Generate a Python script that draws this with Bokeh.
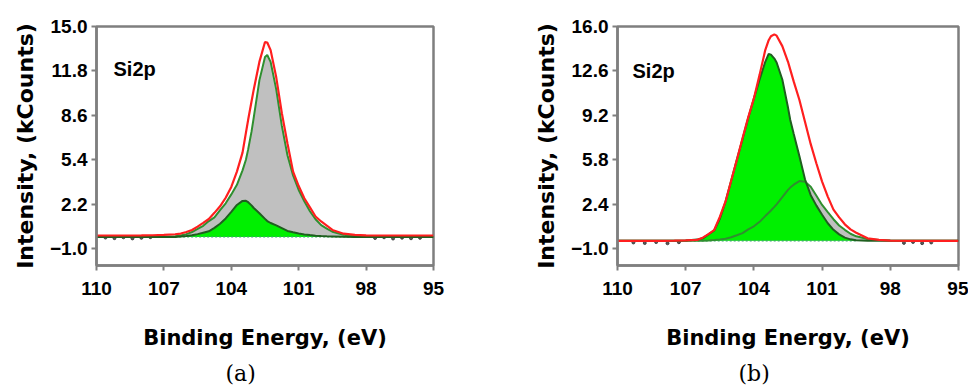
from bokeh.plotting import figure
from bokeh.models import Range1d, FixedTicker, Label, Title
from bokeh.layouts import row
from bokeh.embed import file_html
from bokeh.resources import INLINE

# ---------------- data ----------------
energy = [110, 109, 108, 107.5, 107, 106.5, 106.25, 106, 105.75, 105.5, 105.25, 105,
          104.75, 104.5, 104.25, 104, 103.75, 103.5, 103.35, 103.25, 103.1, 103,
          102.75, 102.5, 102.4, 102.25, 102, 101.75, 101.5, 101.25, 101, 100.75,
          100.5, 100.25, 100, 99.75, 99.5, 99, 98.5, 98, 97, 96, 95]

x_ticks = [110, 107, 104, 101, 98, 95]

# panel (a)
a_y_ticks = [-1.0, 2.2, 5.4, 8.6, 11.8, 15.0]
a_background = -0.15
a_main = [-0.15, -0.15, -0.15, -0.15, -0.14, -0.10, -0.05, 0.05, 0.20, 0.42, 0.65, 0.99,
          1.26, 1.78, 2.27, 2.91, 3.60, 4.64, 5.41, 6.15, 7.43, 8.45,
          11.12, 12.80, 12.95, 12.45, 10.47, 7.84, 5.73, 4.28, 3.23, 2.41,
          1.70, 1.12, 0.70, 0.45, 0.22, 0.00, -0.08, -0.12, -0.14, -0.15, -0.15]
a_minor = [-0.15, -0.15, -0.15, -0.15, -0.15, -0.15, -0.12, -0.08, -0.03, 0.05, 0.15, 0.25,
           0.50, 0.80, 1.18, 1.65, 2.15, 2.44, 2.45, 2.35, 2.12, 1.93,
           1.55, 1.15, 0.99, 0.85, 0.68, 0.48, 0.28, 0.18, 0.10, 0.03,
           -0.02, -0.06, -0.09, -0.11, -0.12, -0.14, -0.15, -0.15, -0.15, -0.15, -0.15]
a_envelope = [-0.05, -0.05, -0.04, -0.03, -0.01, 0.04, 0.09, 0.20, 0.35, 0.59, 0.86, 1.14,
              1.58, 2.05, 2.67, 3.45, 4.55, 5.92, 7.34, 8.28, 9.60, 10.47,
              12.45, 13.88, 13.85, 13.30, 11.34, 8.76, 6.58, 4.55, 3.51, 2.63,
              1.98, 1.32, 0.96, 0.66, 0.35, 0.08, -0.01, -0.04, -0.05, -0.05, -0.05]
a_raw_e = [109.6, 109.2, 108.8, 108.4, 108.0, 107.6, 97.6, 97.2, 96.8, 96.4, 96.0, 95.6]
a_raw_v = [-0.20, -0.24, -0.18, -0.26, -0.22, -0.17, -0.23, -0.18, -0.27, -0.21, -0.25, -0.22]

# panel (b)
b_y_ticks = [-1.0, 2.4, 5.8, 9.2, 12.6, 16.0]
b_background = -0.39
b_main = [-0.39, -0.39, -0.39, -0.38, -0.36, -0.30, -0.20, 0.10, 0.40, 1.30, 2.60, 4.20,
          5.80, 7.40, 9.00, 10.50, 11.95, 13.30, 13.90, 13.85, 13.55, 13.25,
          11.95, 9.80, 8.85, 7.80, 6.10, 4.30, 3.10, 2.30, 1.60, 0.95,
          0.45, 0.10, -0.15, -0.28, -0.34, -0.38, -0.39, -0.39, -0.39, -0.39, -0.39]
b_minor = [-0.39, -0.39, -0.39, -0.39, -0.39, -0.39, -0.38, -0.36, -0.33, -0.29, -0.23, -0.12,
           0.03, 0.20, 0.48, 0.72, 1.06, 1.50, 1.75, 1.93, 2.20, 2.40,
           2.95, 3.50, 3.68, 3.90, 4.18, 4.12, 3.75, 3.05, 2.35, 1.80,
           1.26, 0.78, 0.45, 0.15, -0.05, -0.25, -0.33, -0.37, -0.39, -0.39, -0.39]
b_envelope = [-0.39, -0.39, -0.39, -0.38, -0.36, -0.32, -0.15, 0.12, 0.42, 1.43, 2.60, 4.20,
              5.80, 7.45, 9.05, 10.50, 12.30, 14.20, 14.95, 15.25, 15.40, 15.30,
              14.50, 13.30, 12.70, 11.80, 10.40, 8.70, 7.00, 5.52, 4.14, 2.99,
              1.99, 1.40, 0.87, 0.48, 0.23, -0.20, -0.32, -0.37, -0.39, -0.39, -0.39]
b_raw_e = [109.3, 108.8, 108.3, 107.8, 107.3, 97.4, 97.0, 96.6, 96.2]
b_raw_v = [-0.52, -0.56, -0.49, -0.58, -0.50, -0.55, -0.48, -0.57, -0.52]

# ---------------- styles ----------------
FRAME = "#7f7f7f"
RED = "#ff1f1f"
GRAY_FILL = "#c0c0c0"
LIME = "#00f000"
GREEN_LINE = "#2f8f2f"
DARK_GREEN = "#1f5f1f"
TICK_FONT = "Liberation Sans"
LABEL_FONT = "DejaVu Sans"


def make_panel(width, b_left, b_right, b_top, y_lo, y_hi, y_ticks, tag, tag_offset, si_x, si_y):
    p = figure(width=width, height=392, x_range=Range1d(110, 95), y_range=Range1d(y_lo, y_hi),
               output_backend="svg", toolbar_location=None,
               min_border_left=b_left, min_border_right=b_right,
               min_border_top=b_top, min_border_bottom=127)
    p.grid.visible = False
    p.outline_line_color = FRAME
    p.outline_line_width = 2.5
    p.background_fill_color = "white"
    p.border_fill_color = "white"

    p.xaxis.ticker = FixedTicker(ticks=x_ticks)
    p.yaxis.ticker = FixedTicker(ticks=y_ticks)
    p.yaxis.major_label_overrides = {t: f"{t:.1f}".replace("-", "\u2212") for t in y_ticks}
    for ax in (p.xaxis[0], p.yaxis[0]):
        ax.axis_line_color = FRAME
        ax.axis_line_width = 2.5
        ax.major_tick_line_color = FRAME
        ax.major_tick_line_width = 2
        ax.major_tick_out = 5
        ax.major_tick_in = 0
        ax.minor_tick_line_color = None
        ax.major_label_text_font = TICK_FONT
        ax.major_label_text_font_style = "bold"
        ax.major_label_text_font_size = "19px"
        ax.major_label_text_color = "black"
        ax.axis_label_text_font = LABEL_FONT
        ax.axis_label_text_font_style = "bold"
        ax.axis_label_text_color = "black"
    p.xaxis.axis_label = "Binding Energy, (eV)"
    p.xaxis.axis_label_text_font_size = "21px"
    p.xaxis.major_label_standoff = 11
    p.xaxis.axis_label_standoff = 28
    p.yaxis.axis_label = "Intensity, (kCounts)"
    p.yaxis.axis_label_text_font_size = "22px"
    p.yaxis.major_label_standoff = 4
    p.yaxis.axis_label_standoff = 9

    p.add_layout(Label(x=si_x, y=si_y, x_units="canvas", y_units="canvas", text="Si2p",
                       text_font=TICK_FONT, text_font_style="bold", text_font_size="20px",
                       text_color="black", text_baseline="alphabetic", text_align="left"))
    p.add_layout(Title(text=tag, align="left", offset=tag_offset, standoff=13,
                       text_font="DejaVu Serif", text_font_size="22px",
                       text_font_style="normal", text_color="black"), "below")
    return p


# ---------------- panel (a) ----------------
pa = make_panel(488, 96, 55, 23, -2.21, 15.0, a_y_ticks, "(a)", 129, 113, 68)
bg_a = [a_background] * len(energy)
pa.varea(x=energy, y1=bg_a, y2=a_main, fill_color=GRAY_FILL)
pa.varea(x=energy, y1=bg_a, y2=a_minor, fill_color=LIME)
fit_a = [e for e, v in zip(energy, a_main) if v > a_background + 0.01]
pa.line(x=fit_a, y=[a_background] * len(fit_a), line_color="#3aa86a", line_width=1.3,
        line_dash="2 2")
pa.scatter(x=a_raw_e, y=a_raw_v, size=3, color="#333333", alpha=0.8)
pa.line(x=energy, y=a_main, line_color=GREEN_LINE, line_width=2)
pa.line(x=energy, y=a_minor, line_color=DARK_GREEN, line_width=2)
pa.line(x=energy, y=a_envelope, line_color=RED, line_width=2.2)

# ---------------- panel (b) ----------------
pb = make_panel(480, 129, 10, 26, -2.28, 16.0, b_y_ticks, "(b)", 121, 144, 70)
bg_b = [b_background] * len(energy)
pb.varea(x=energy, y1=bg_b, y2=b_minor, fill_color=GRAY_FILL)
pb.varea(x=energy, y1=bg_b, y2=b_main, fill_color=LIME)
fit_b = [e for e, v in zip(energy, b_main) if v > b_background + 0.01]
pb.line(x=fit_b, y=[b_background] * len(fit_b), line_color="#3aa86a", line_width=1.3,
        line_dash="2 2")
pb.scatter(x=b_raw_e, y=b_raw_v, size=3, color="#333333", alpha=0.8)
pb.line(x=energy, y=b_minor, line_color=GREEN_LINE, line_width=2)
pb.line(x=energy, y=b_main, line_color=DARK_GREEN, line_width=2)
pb.line(x=energy, y=b_envelope, line_color=RED, line_width=2.2)

layout = row(pa, pb, spacing=0)
open("out.html", "w").write(file_html(layout, INLINE))
